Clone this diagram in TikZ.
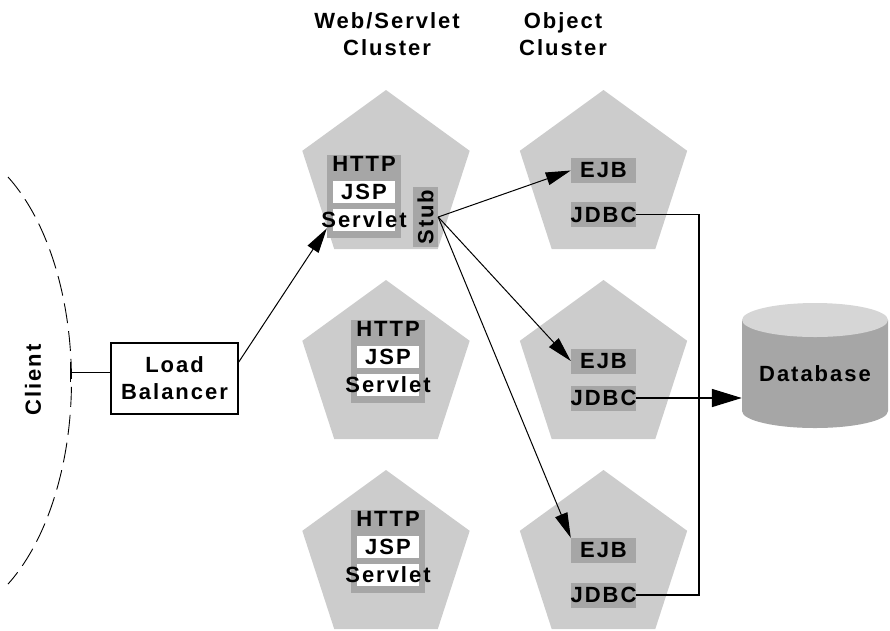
\documentclass[tikz,border=0pt]{standalone}
\usepackage{fontspec}
\setmainfont{Liberation Sans}[LetterSpace=9]
\usetikzlibrary{shapes.geometric,arrows.meta}
\definecolor{panel}{gray}{0.8}
\definecolor{slot}{gray}{0.65}
\definecolor{dbtop}{gray}{0.84}
\begin{document}
\begin{tikzpicture}[x=1pt,y=-1pt,
    font=\bfseries\fontsize{22}{27}\selectfont,
    penta/.style={regular polygon,regular polygon sides=5,fill=panel,inner sep=0pt,minimum size=176pt},
    slotbox/.style={fill=slot,inner sep=0pt,minimum width=65pt,minimum height=25pt},
    whitebox/.style={fill=white,inner sep=0pt,minimum width=62pt,minimum height=22pt},
    thinarrow/.style={line width=1pt,-{Triangle[length=25pt,width=13pt]}}]
    \useasboundingbox (0,0) rectangle (890,630);
    % titles
    \node[align=center] (webt) at (387,34) {Web/Servlet\\Cluster};
    \node[align=center] (objt) at (563,34) {Object\\Cluster};
    % pentagons
    \foreach \n/\y in {1/178,2/368,3/558} {
        \node[penta] (wp\n) at (386,\y) {};
        \node[penta] (op\n) at (603.5,\y) {};
    }
    % web side
    \foreach \n/\x/\y in {1/364/155,2/388/320,3/388/510} {
        \node[fill=slot,inner sep=0pt,minimum width=74pt,minimum height=83pt,anchor=north] (wb\n) at (\x,\y) {};
        \node (http\n) at (\x,\y+9) {HTTP};
        \node[whitebox] (jsp\n) at (\x,\y+37) {JSP};
        \node[whitebox] (sv\n) at (\x,\y+65) {\makebox[62pt]{Servlet}};
    }
    \node[fill=slot,rotate=90,inner sep=0pt,minimum width=60pt,minimum height=25pt] (stub) at (425.5,217) {Stub};
    % object side
    \foreach \n/\ya/\yb in {1/170.5/214.5,2/361/398,3/550.5/595} {
        \node[slotbox] (ejb\n) at (603.5,\ya) {EJB};
        \node[slotbox] (jdbc\n) at (603.5,\yb) {\makebox[65pt]{JDBC}};
    }
    % database
    \fill[slot] (742,320) -- (742,411) arc[start angle=180,end angle=360,x radius=73pt,y radius=17pt] -- (888,320) -- cycle;
    \fill[dbtop] (815,320) ellipse[x radius=73pt,y radius=17pt];
    \node[inner sep=0pt,minimum width=146pt,minimum height=90pt] (db) at (815,374) {Database};
    % client
    \draw[line width=0.9pt,dash pattern=on 20pt off 8pt] (8,177) arc[start angle=58,end angle=-58,x radius=135pt,y radius=240pt];
    \node[rotate=90] (client) at (33,380) {Client};
    \node[draw,line width=1.5pt,inner sep=0pt,minimum width=127pt,minimum height=71pt,align=center] (lb) at (174.5,378.5) {Load\\Balancer};
    \coordinate (tick) at (70,372);
    \draw[line width=0.8pt,-{Bar[width=20pt]}] (tick -| lb.west) -- (tick);
    % connectors
    \draw[thinarrow] ([yshift=16.5pt]lb.east) -- ([yshift=10pt]wb1.south west);
    \draw[thinarrow] (stub.south) -- (ejb1.west);
    \draw[thinarrow] (stub.south) -- (ejb2.west);
    \draw[thinarrow] (stub.south) -- (ejb3.north west);
    \coordinate (bus) at (699,595);
    \draw[line width=1.6pt] (jdbc1.east) -| (bus) -- (jdbc3.east);
    \draw[line width=1.6pt,-{Triangle[length=30pt,width=18pt]}] (jdbc2.east) -- (jdbc2.east -| db.west);
\end{tikzpicture}
\end{document}
